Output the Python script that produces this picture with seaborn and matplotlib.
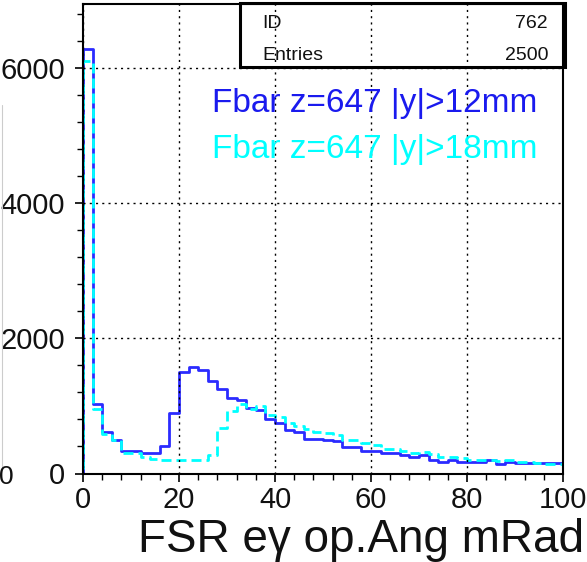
import numpy as np
import pandas as pd
import matplotlib
matplotlib.use("Agg")
import matplotlib.pyplot as plt
from matplotlib.patches import Rectangle
from matplotlib.ticker import MultipleLocator
import seaborn as sns

# ---- data (bin width 2 mRad, 0..100) ----
bin_width = 2
bin_lo = np.arange(0, 100, bin_width)

fbar_y12 = [6280, 1022, 607, 489, 330, 330, 310, 310, 400, 900,
            1505, 1579, 1530, 1367, 1244, 1111, 1086, 963, 935, 805,
            741, 641, 616, 518, 518, 490, 475, 394, 394, 335,
            335, 305, 305, 281, 237, 271, 207, 172, 207, 172,
            172, 172, 207, 138, 172, 150, 150, 150, 150, 150]

fbar_y18 = [6100, 960, 591, 493, 310, 305, 240, 215, 200, 200,
            200, 207, 207, 270, 670, 927, 1025, 950, 997, 864,
            839, 741, 701, 652, 617, 602, 567, 493, 493, 453,
            424, 370, 356, 335, 305, 316, 296, 237, 246, 230,
            207, 197, 207, 187, 197, 172, 172, 158, 148, 148]

label_12 = "Fbar z=647 |y|>12mm"
label_18 = "Fbar z=647 |y|>18mm"
x_label = "FSR e\u03b3 op.Ang mRad"
stats_id = "762"
stats_entries = "2500"
x_ticks = [0, 20, 40, 60, 80, 100]
y_ticks = [0, 2000, 4000, 6000]

# ---- style ----
sns.set_style("white")
plt.rcParams["font.family"] = ["Liberation Sans", "DejaVu Sans"]

W, H = 587, 562
fig = plt.figure(figsize=(W / 100, H / 100), dpi=100)
ax = fig.add_axes([83 / W, 1 - 473.5 / H, 480 / W, (473.5 - 4) / H])

blue = "#2b2bff"
cyan = "#00ffff"

def draw(counts, color, ls):
    centers = np.concatenate([[-bin_width / 2], bin_lo + bin_width / 2, [100 + bin_width / 2]])
    weights = np.concatenate([[0], counts, [0]])
    edges = [float(e) for e in np.arange(-bin_width, 100 + 2 * bin_width, bin_width)]
    df = pd.DataFrame({"x": centers, "w": weights})
    sns.histplot(data=df, x="x", weights="w", bins=edges, element="step",
                 fill=False, color=color, linewidth=2.0, linestyle=ls, ax=ax)

draw(fbar_y12, blue, "-")
draw(fbar_y18, cyan, (0, (3.6, 1.8)))

ax.set_xlim(0, 100)
ax.set_ylim(0, 6950)
ax.set_xlabel("")
ax.set_ylabel("")

ax.set_xticks(x_ticks)
ax.set_yticks(y_ticks)
ax.xaxis.set_minor_locator(MultipleLocator(4))
ax.yaxis.set_minor_locator(MultipleLocator(400))
ax.tick_params(axis="both", which="major", direction="out", length=6, width=1.2,
               color="black", labelsize=21, labelcolor="#111111")
ax.tick_params(axis="both", which="minor", direction="out", length=4.5, width=1.0,
               color="black")
ax.tick_params(axis="y", which="major", pad=7)
ax.tick_params(axis="x", which="major", pad=3)
ax.tick_params(left=True, bottom=True, which="both")

for s in ax.spines.values():
    s.set_color("black")
    s.set_linewidth(1.5)

ax.grid(True, which="major", color="black", linestyle=(0, (1.5, 3.0)), linewidth=1.0)
ax.set_axisbelow(False)

# legend-like labels
ax.text(0.269, 0.770, label_12, transform=ax.transAxes, color="#1a1aee",
        fontsize=24, ha="left", va="baseline")
ax.text(0.269, 0.672, label_18, transform=ax.transAxes, color=cyan,
        fontsize=24, ha="left", va="baseline")

# stats box
ax.add_patch(Rectangle((0.327, 0.866), 0.677, 0.136, transform=ax.transAxes,
                       fill=False, edgecolor="black", linewidth=2.2, clip_on=False, zorder=5))
ax.text(0.373, 0.949, "ID", transform=ax.transAxes, fontsize=14, ha="left", va="baseline", color="#111111")
ax.text(0.969, 0.949, stats_id, transform=ax.transAxes, fontsize=14, ha="right", va="baseline", color="#111111")
ax.text(0.373, 0.881, "Entries", transform=ax.transAxes, fontsize=14, ha="left", va="baseline", color="#111111")
ax.text(0.969, 0.881, stats_entries, transform=ax.transAxes, fontsize=14, ha="right", va="baseline", color="#111111")

# x axis title
fig.text(584 / W, 1 - 552 / H, x_label, fontsize=33, ha="right", va="baseline", color="#111111")

# remnants of neighbouring pad
fig.text(6 / W, 1 - 477 / H, "0", fontsize=19, ha="center", va="center", color="#111111")
fig.add_artist(plt.Line2D([1.5 / W, 1.5 / W], [1 - 105 / H, 1 - 468 / H], color="#cccccc", linewidth=0.8))

fig.savefig("out.png", dpi=100)
